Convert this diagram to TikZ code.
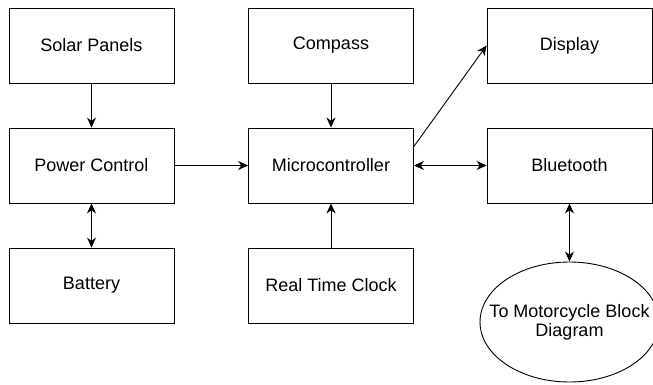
\documentclass[tikz,border=0pt]{standalone}
\usepackage{fontspec}
\setmainfont{Liberation Sans}
\usetikzlibrary{arrows.meta,shapes.geometric}

\begin{document}
\begin{tikzpicture}[x=1pt,y=1pt,%
% common options for blocks:
block/.style = {draw, line width=0.9pt, align=center, minimum width=165pt,
            minimum height=75pt, inner sep=0, font=\fontsize{18}{19}\selectfont},
% common options for the ellipse:
oval/.style = {ellipse, draw, line width=0.9pt, minimum width=179pt,
            minimum height=120pt, inner sep=0},
% common options for the arrows:
link/.style = {line width=0.9pt, -{Stealth[length=10pt,width=9pt]}},
both/.style = {line width=0.9pt, {Stealth[length=10pt,width=9pt]}-{Stealth[length=10pt,width=9pt]}}]
\useasboundingbox (0,0) rectangle (653,384);
\node[block] (A1) at (91.5,338.5) {Solar Panels};
\node[block] (A2) at (91.5,218.5) {Power Control};
\node[block] (A3) at (91.5,98.5) {Battery};
\node[block] (B1) at (331,338.5) {Compass};
\node[block] (B2) at (331,218.5) {Microcontroller};
\node[block] (B3) at (331,98.5) {Real Time Clock};
\node[block] (C1) at (569.5,338.5) {Display};
\node[block] (C2) at (569.5,218.5) {Bluetooth};
\node[oval, label={[align=center, font=\fontsize{18}{19}\selectfont]center:To Motorcycle Block\\Diagram}] (C3) at (569.5,62) {};
\draw[link] (A1.south) to (A2.north);
\draw[link] (A2.east) to (B2.west);
\draw[both] (A2.south) to (A3.north);
\draw[link] (B1.south) to (B2.north);
\draw[link] (B3.north) to (B2.south);
\draw[link] (B2.13) to (C1.west);
\draw[both] (B2.east) to (C2.west);
\draw[both] (C2.south) to (C3.north);
\end{tikzpicture}
\end{document}
